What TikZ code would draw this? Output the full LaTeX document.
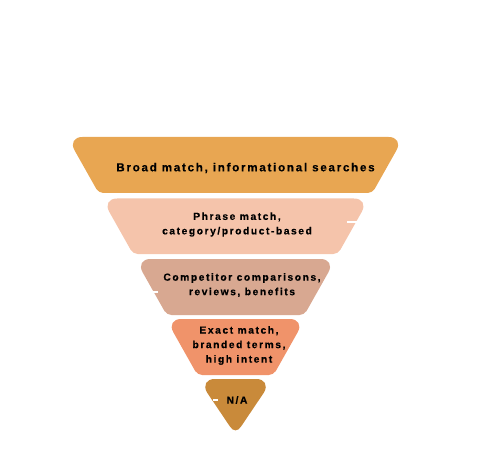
\documentclass[tikz,border=0pt]{standalone}
\usepackage{fontspec}
\newfontfamily\funnelfont{Liberation Sans}[LetterSpace=15,FakeBold=0.3]
\usetikzlibrary{calc}

\definecolor{bandA}{HTML}{E8A652}
\definecolor{bandB}{HTML}{F5C4AB}
\definecolor{bandC}{HTML}{D8A891}
\definecolor{bandD}{HTML}{F0936A}
\definecolor{bandE}{HTML}{C98A3A}

% funnel geometry: centre line, apex height and side slope
\def\fcx{235.5}
\def\fapex{435.7}
\def\fslope{0.564}

% one rounded trapezoid slice of the funnel: top, bottom, colour, apex of its side lines
\newcommand\funnelband[4]{%
  \pgfmathsetmacro\xTL{\fcx-\fslope*(#4-#1)}%
  \pgfmathsetmacro\xTR{2*\fcx-\xTL}%
  \pgfmathsetmacro\xBL{\fcx-\fslope*(#4-#2)}%
  \pgfmathsetmacro\xBR{2*\fcx-\xBL}%
  \fill[#3]
    (\xTL+15.4,#1) -- (\xTR-15.4,#1)
    .. controls (\xTR-6.93,#1) and (\xTR-3.40,#1+6.04) .. (\xTR-7.56,#1+13.41)
    -- (\xBR+2.31,#2-4.09)
    .. controls (\xBR+1.04,#2-1.84) and (\xBR-2.12,#2) .. (\xBR-4.7,#2)
    -- (\xBL+4.7,#2)
    .. controls (\xBL+2.12,#2) and (\xBL-1.04,#2-1.84) .. (\xBL-2.31,#2-4.09)
    -- (\xTL+7.56,#1+13.41)
    .. controls (\xTL+3.40,#1+6.04) and (\xTL+6.93,#1) .. (\xTL+15.4,#1) -- cycle;
}

% the pointed bottom slice: top, colour, apex of its top corners' side lines
\newcommand\funnelapex[3]{%
  \pgfmathsetmacro\xTL{\fcx-\fslope*(#3-#1)}%
  \pgfmathsetmacro\xTR{2*\fcx-\xTL}%
  \fill[#2]
    (\xTL+15.4,#1) -- (\xTR-15.4,#1)
    .. controls (\xTR-6.93,#1) and (\xTR-3.40,#1+6.04) .. (\xTR-7.56,#1+13.41)
    -- (\fcx+5.5,\fapex-9.1)
    .. controls (\fcx+2.45,\fapex-4.1) and (\fcx-2.45,\fapex-4.1) .. (\fcx-5.5,\fapex-9.1)
    -- (\xTL+7.56,#1+13.41)
    .. controls (\xTL+3.40,#1+6.04) and (\xTL+6.93,#1) .. (\xTL+15.4,#1) -- cycle;
}

\tikzset{
  bandlabel/.style={inner sep=0pt, align=center, text=black,
    font=\funnelfont\bfseries\fontsize{10.3}{14.5}\selectfont},
  toplabel/.style={bandlabel, font=\funnelfont\bfseries\fontsize{11.6}{14}\selectfont},
  tick/.style={draw=white, line width=1.1pt}
}

\begin{document}
\begin{tikzpicture}[x=1pt,y=-1pt]
  \useasboundingbox (0,0) rectangle (503,465);

  \funnelband{137}{193}{bandA}{\fapex}
  \funnelband{198.5}{254}{bandB}{\fapex}
  \funnelband{259}{315}{bandC}{437}
  \funnelband{319}{375}{bandD}{442.5}
  \funnelapex{379}{bandE}{443}

  \node[toplabel]  (broad)   at (245.5,168) {Broad match, informational searches};
  \node[bandlabel] (phrase)  at (237,224.5) {Phrase match,\\category/product-based};
  \node[bandlabel] (compet)  at (242,285) {Competitor comparisons,\\reviews, benefits};
  \node[bandlabel] (exact)   at (239,345.5) {Exact match,\\branded terms,\\high intent};
  \node[bandlabel] (na)      at (237,400) {N/A};

  % short white leader stubs
  \coordinate (stubBa) at (347,222);
  \coordinate (stubBb) at (358,222);
  \coordinate (stubCa) at (152,292);
  \coordinate (stubCb) at (158,292);
  \coordinate (stubEa) at (213,400);
  \coordinate (stubEb) at (218,400);
  \draw[tick] (stubBa) -- (stubBb);
  \draw[tick] (stubCa) -- (stubCb);
  \draw[tick] (stubEa) -- (stubEb);
\end{tikzpicture}
\end{document}
